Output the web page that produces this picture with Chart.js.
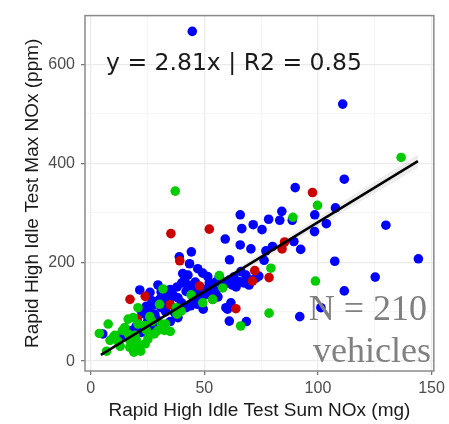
<!DOCTYPE html>
<html>
<head>
<meta charset="utf-8">
<script src="https://cdn.jsdelivr.net/npm/chart.js@4.4.0/dist/chart.umd.min.js"></script>
<style>
  html, body { margin: 0; padding: 0; background: #fff; }
  #wrap { width: 449px; height: 424px; }
</style>
</head>
<body>
<div id="wrap"><canvas id="graficoNOx" width="449" height="424"></canvas></div>
<script>
// blue vehicles
const blueX = [44.7, 110.9, 111.6, 90.0, 129.9, 65.8, 84.1, 78.3, 83.2, 107.7, 98.6, 103.7, 98.5, 88.7, 66.5, 71.5, 75.4, 59.2, 65.8, 70.5,
  77.1, 80.0, 76.3, 89.4, 92.4, 107.4, 144.2, 125.2, 111.6, 101.3, 92.0, 44.3, 39.0, 43.5, 61.1, 47.1, 49.3, 52.2, 51.5, 42.8,
  40.1, 40.5, 41.3, 42.7, 61.0, 68.3, 72.7, 67.6, 60.2, 62.4, 65.4, 69.7, 66.1, 61.7, 60.2, 61.0, 68.5, 49.5, 21.6, 29.6,
  26.1, 5.3, 36.2, 38.4, 44.2, 42.0, 37.7, 33.3, 34.7, 30.3, 28.2, 24.5, 22.3, 26.0, 26.7, 36.9, 38.4, 42.0, 44.9, 56.6,
  70.5, 59.5, 13.6, 18.7, 22.3, 26.7, 32.5, 23.8, 28.2, 26.7, 31.1, 34.0, 12.8, 18.0, 31.0, 35.0, 38.0, 46.0, 48.0, 50.0,
  53.0, 55.0, 57.0, 63.0, 58.0, 45.0, 47.0, 40.0, 33.0, 29.0, 25.0, 20.0, 16.0, 30.0, 35.0, 55.0, 64.0, 74.0, 56.0, 52.0, 44.0,
  49.0, 54.0, 33.0, 27.0, 46.0];
const blueY = [667, 520, 368, 351, 275, 296, 303, 287, 285, 310, 296, 278, 262, 285, 268, 276, 266, 247, 235, 227,
  223, 232, 204, 242, 226, 202, 207, 170, 142, 108, 90, 221, 211, 197, 205, 187, 178, 158, 171, 174,
  158, 177, 164, 154, 164, 174, 168, 158, 158, 154, 161, 154, 181, 118, 105, 81, 80, 105, 144, 154,
  139, 55, 134, 128, 144, 108, 91, 134, 125, 125, 115, 111, 101, 101, 91, 98, 88, 141, 154, 171,
  164, 108, 52, 62, 58, 65, 68, 95, 95, 115, 108, 134, 52, 62, 140, 145, 150, 160, 140, 145,
  150, 160, 165, 170, 150, 120, 115, 118, 100, 85, 80, 70, 58, 75, 80, 140, 150, 172, 130, 135, 112,
  128, 145, 118, 122, 132];

// red vehicles
const redX = [97.6, 35.3, 52.2, 39.2, 85.3, 84.2, 72.2, 78.5, 71.2, 47.9, 17.3, 24.0, 63.9, 20.5, 35.0, 53.7];
const redY = [341, 258, 267, 203, 241, 227, 183, 169, 162, 152, 125, 131, 106, 85, 114, 125];

// green vehicles
const greenX = [136.6, 37.2, 99.8, 89.0, 79.3, 98.9, 78.5, 66.0, 56.6, 31.8, 3.8, 7.7, 7.0, 9.9, 16.5, 18.7, 18.0, 21.6, 20.1, 15.0,
  24.5, 20.8, 20.8, 29.6, 32.5, 31.1, 44.2, 49.3, 39.8, 58.1, 8.5, 10.6, 17.2, 20.8, 17.2, 19.4, 25.2, 23.8, 30.3, 37.7,
  53.7, 16.5, 33.0, 27.0, 14.0, 12.0, 22.0, 24.0, 28.0, 35.0, 38.0, 13.0, 19.0, 26.0];
const greenY = [412, 344, 315, 291, 188, 162, 97, 71, 173, 146, 56, 75, 20, 48, 55, 88, 32, 32, 42, 68,
  62, 75, 108, 62, 62, 75, 134, 118, 101, 148, 42, 52, 28, 28, 42, 52, 45, 72, 115, 108,
  125, 85, 75, 80, 62, 40, 20, 35, 55, 60, 95, 30, 18, 90];

// fitted line and its confidence band
const fitX = [4.5, 144];
const fitY = [12.6, 404.6];
const bandHiY = [14, 418];
const bandLoY = [11, 391];

// axis ticks (major + minor grid)
const xTicks = [0, 25, 50, 75, 100, 125, 150];
const yTicks = [0, 100, 200, 300, 400, 500, 600];

const pares = (xs, ys) => xs.map((x, i) => ({ x: x, y: ys[i] }));

Chart.defaults.font.family = "'Liberation Sans', Arial, sans-serif";

const moldura = {
  id: "moldura",
  afterDraw(chart) {
    const { ctx, chartArea: a } = chart;
    ctx.save();
    ctx.strokeStyle = "#8a8a8a";
    ctx.lineWidth = 1.5;
    ctx.strokeRect(a.left, a.top, a.right - a.left, a.bottom - a.top);

    ctx.fillStyle = "#1a1a1a";
    ctx.font = "23.5px 'DejaVu Sans'";
    ctx.textAlign = "left";
    ctx.textBaseline = "alphabetic";
    ctx.fillText("y = 2.81x | R2 = 0.85", 106, 70);

    ctx.fillStyle = "#808080";
    ctx.font = "36px 'Liberation Serif'";
    ctx.textAlign = "right";
    ctx.fillText("N = 210", 427, 320);
    ctx.fillText("vehicles", 431, 362);
    ctx.restore();
  }
};

const pontos = (data, cor, ordem) => ({
  type: "scatter",
  data: data,
  backgroundColor: cor,
  borderWidth: 0,
  pointRadius: 4.8,
  order: ordem
});

new Chart(document.getElementById("graficoNOx"), {
  type: "scatter",
  data: {
    datasets: [
      {
        type: "line",
        data: pares(fitX, bandHiY),
        borderWidth: 0,
        pointRadius: 0,
        backgroundColor: "rgba(0,0,0,0.07)",
        fill: "+1",
        order: 1
      },
      {
        type: "line",
        data: pares(fitX, bandLoY),
        borderWidth: 0,
        pointRadius: 0,
        fill: false,
        order: 1
      },
      {
        type: "line",
        data: pares(fitX, fitY),
        borderColor: "#000",
        borderWidth: 2.5,
        pointRadius: 0,
        fill: false,
        order: 0
      },
      pontos(pares(greenX, greenY), "#00cc00", 2),
      pontos(pares(redX, redY), "#cc0000", 3),
      pontos(pares(blueX, blueY), "#0000ff", 4)
    ]
  },
  options: {
    responsive: false,
    animation: false,
    layout: { padding: { top: 9, right: 13, left: 0, bottom: 0 } },
    plugins: { legend: { display: false }, tooltip: { enabled: false } },
    scales: {
      x: {
        type: "linear",
        min: -2.5,
        max: 151,
        afterFit: (s) => { s.height = 53; },
        afterBuildTicks: (s) => { s.ticks = xTicks.map(v => ({ value: v })); },
        ticks: {
          autoSkip: false,
          maxRotation: 0,
          padding: 4,
          color: "#4d4d4d",
          font: { size: 16 },
          callback: (v) => (v % 50 === 0 ? String(v) : "")
        },
        grid: {
          color: (c) => (c.tick && c.tick.value % 50 === 0 ? "#ebebeb" : "#f3f3f3"),
          lineWidth: (c) => (c.tick && c.tick.value % 50 === 0 ? 1.3 : 0.8),
          tickColor: (c) => (c.tick && c.tick.value % 50 === 0 ? "#777" : "rgba(0,0,0,0)"),
          tickLength: 4,
          tickWidth: 1.3
        },
        border: { display: false },
        title: {
          display: true,
          text: "Rapid High Idle Test Sum NOx (mg)",
          color: "#1a1a1a",
          font: { size: 19 },
          padding: { top: 0, bottom: 2 }
        }
      },
      y: {
        type: "linear",
        min: -20,
        max: 699,
        afterFit: (s) => { s.width = 85; },
        afterBuildTicks: (s) => { s.ticks = yTicks.map(v => ({ value: v })); },
        ticks: {
          autoSkip: false,
          padding: 6,
          color: "#4d4d4d",
          font: { size: 16 },
          callback: (v) => (v % 200 === 0 ? String(v) : "")
        },
        grid: {
          color: (c) => (c.tick && c.tick.value % 200 === 0 ? "#ebebeb" : "#f3f3f3"),
          lineWidth: (c) => (c.tick && c.tick.value % 200 === 0 ? 1.3 : 0.8),
          tickColor: (c) => (c.tick && c.tick.value % 200 === 0 ? "#777" : "rgba(0,0,0,0)"),
          tickLength: 4,
          tickWidth: 1.3
        },
        border: { display: false },
        title: {
          display: true,
          text: "Rapid High Idle Test Max NOx (ppm)",
          color: "#1a1a1a",
          font: { size: 19 },
          padding: { top: 21, bottom: 0 }
        }
      }
    }
  },
  plugins: [moldura]
});
</script>
</body>
</html>
